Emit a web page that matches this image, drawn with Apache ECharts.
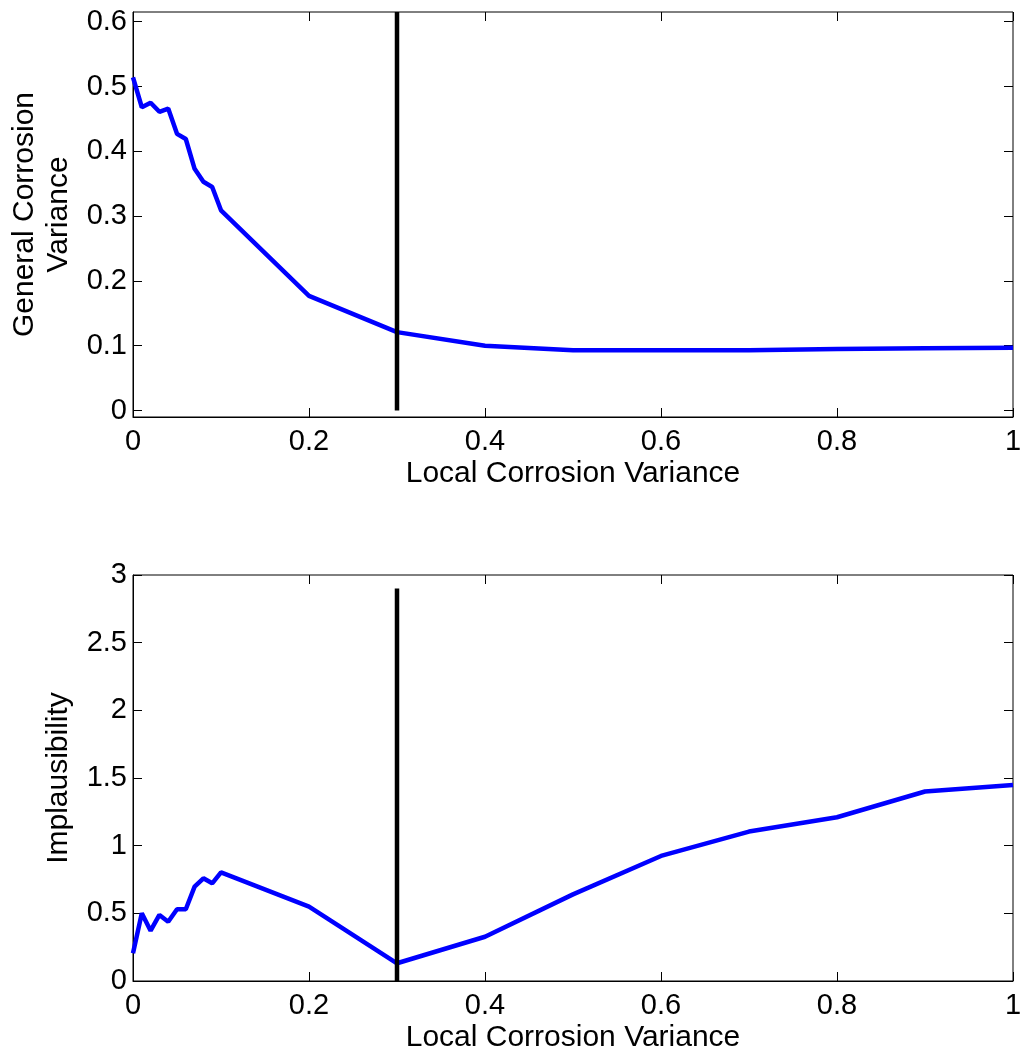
<!DOCTYPE html>
<html>
<head>
<meta charset="utf-8">
<script src="https://cdn.jsdelivr.net/npm/echarts@6/dist/echarts.min.js"></script>
<style>
  html, body { margin: 0; padding: 0; background: #fff; }
  #main { width: 1020px; height: 1050px; }
</style>
</head>
<body>
<div id="main"></div>
<script>
// local corrosion variance (x), shared by both panels
var xValues = [0, 0.01, 0.02, 0.03, 0.04, 0.05, 0.06, 0.07, 0.08, 0.09, 0.1,
    0.2, 0.3, 0.4, 0.5, 0.6, 0.7, 0.8, 0.9, 1.0];
// top panel: general corrosion variance
var generalVar = [0.514, 0.468, 0.475, 0.461, 0.466, 0.427, 0.419, 0.373, 0.353, 0.345, 0.309,
    0.177, 0.121, 0.100, 0.093, 0.093, 0.093, 0.095, 0.096, 0.097];
// bottom panel: implausibility
var implaus = [0.205, 0.50, 0.372, 0.488, 0.438, 0.53, 0.53, 0.697, 0.759, 0.722, 0.803,
    0.549, 0.131, 0.327, 0.64, 0.924, 1.104, 1.21, 1.40, 1.449];
var xTicks = [0, 0.2, 0.4, 0.6, 0.8, 1];
var topTicks = [0, 0.1, 0.2, 0.3, 0.4, 0.5, 0.6];
var bottomTicks = [0, 0.5, 1, 1.5, 2, 2.5, 3];
var cutoff = 0.3;
var topLine = [[cutoff, 0], [cutoff, 0.615]];
var bottomLine = [[cutoff, 0], [cutoff, 2.9]];

var chart = echarts.init(document.getElementById('main'));
var font = 'Liberation Sans, Arial, sans-serif';
var black = '#000';

function xAxisFor(gridIndex, mirror) {
    return {
        type: 'value', gridIndex: gridIndex, min: 0, max: 1,
        position: mirror ? 'top' : 'bottom',
        name: mirror ? '' : 'Local Corrosion Variance',
        nameLocation: 'middle', nameGap: 42,
        nameTextStyle: { fontFamily: font, fontSize: 30, color: black },
        axisLine: { show: !mirror, onZero: false, lineStyle: { color: black, width: 1 } },
        axisTick: { show: true, inside: true, length: 9, customValues: xTicks, lineStyle: { color: black } },
        axisLabel: { show: !mirror, customValues: xTicks, margin: 10, fontFamily: font, fontSize: 29, color: black },
        splitLine: { show: false }
    };
}

function yAxisFor(gridIndex, mirror, min, max, ticks, name) {
    return {
        type: 'value', gridIndex: gridIndex, min: min, max: max,
        position: mirror ? 'right' : 'left',
        name: mirror ? '' : name,
        nameLocation: 'middle', nameGap: 55, nameRotate: 90,
        nameTextStyle: { fontFamily: font, fontSize: 30, color: black, lineHeight: 34 },
        axisLine: { show: !mirror, onZero: false, lineStyle: { color: black, width: 1 } },
        axisTick: { show: true, inside: true, length: 9, customValues: ticks, lineStyle: { color: black } },
        axisLabel: { show: !mirror, customValues: ticks, margin: 6, fontFamily: font, fontSize: 29, color: black },
        splitLine: { show: false }
    };
}

function pairs(xs, ys) {
    return xs.map(function (x, i) { return [x, ys[i]]; });
}

var option = {
    backgroundColor: '#fff',
    animation: false,
    grid: [
        { left: 133, right: 7, top: 12, height: 405, outerBoundsMode: 'none',
          show: true, borderColor: black, borderWidth: 1 },
        { left: 133, right: 7, top: 575, height: 406, outerBoundsMode: 'none',
          show: true, borderColor: black, borderWidth: 1 }
    ],
    xAxis: [xAxisFor(0, false), xAxisFor(0, true), xAxisFor(1, false), xAxisFor(1, true)],
    yAxis: [
        yAxisFor(0, false, -0.01, 0.615, topTicks, 'General Corrosion\nVariance'),
        yAxisFor(0, true, -0.01, 0.615, topTicks, ''),
        yAxisFor(1, false, 0, 3, bottomTicks, 'Implausibility'),
        yAxisFor(1, true, 0, 3, bottomTicks, '')
    ],
    series: [
        {
            type: 'line', xAxisIndex: 0, yAxisIndex: 0, data: pairs(xValues, generalVar),
            showSymbol: false, lineStyle: { color: '#0000ff', width: 4.5 }
        },
        {
            type: 'line', xAxisIndex: 0, yAxisIndex: 0, data: topLine,
            showSymbol: false, lineStyle: { color: black, width: 4.5 }
        },
        {
            type: 'line', xAxisIndex: 2, yAxisIndex: 2, data: pairs(xValues, implaus),
            showSymbol: false, lineStyle: { color: '#0000ff', width: 4.5 }
        },
        {
            type: 'line', xAxisIndex: 2, yAxisIndex: 2, data: bottomLine,
            showSymbol: false, lineStyle: { color: black, width: 4.5 }
        }
    ]
};

chart.setOption(option);
</script>
</body>
</html>
